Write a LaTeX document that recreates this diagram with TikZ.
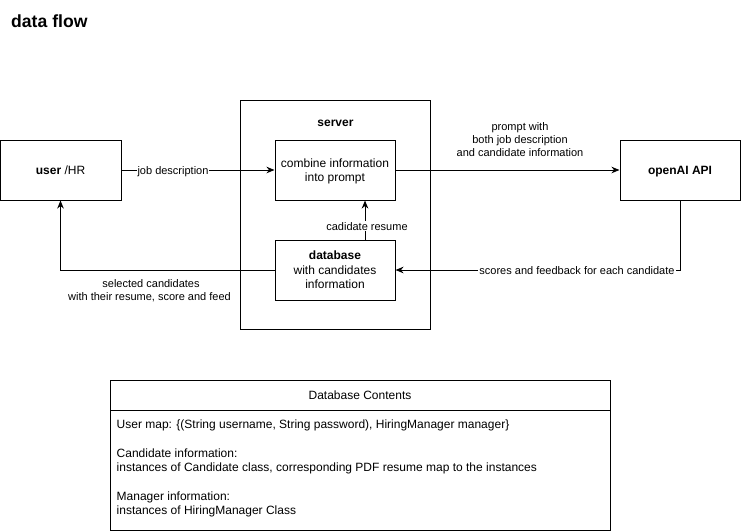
\documentclass[tikz,border=0pt]{standalone}
\usepackage{fontspec}
\setmainfont{Liberation Sans}
\usetikzlibrary{arrows.meta}
\begin{document}
\begin{tikzpicture}[x=1pt,y=-1pt,
  box/.style={draw, line width=1pt, inner sep=0pt},
  txt/.style={font=\fontsize{12}{14.4}\selectfont, anchor=base, inner sep=0pt},
  lbl/.style={font=\fontsize{11}{13.2}\selectfont, anchor=base, inner sep=0pt},
  wbg/.style={fill=white, inner sep=1pt},
  conn/.style={line width=1pt, -{Stealth[length=8pt,width=6.5pt,inset=2.5pt]}}]
\useasboundingbox (0,0) rectangle (741,531);
% title
\node[anchor=base west, inner sep=0pt, font=\fontsize{17.6}{20}\selectfont\bfseries] (title) at (11,27) {data flow};
% boxes
\node[box, minimum width=121pt, minimum height=60pt] (user) at (60.5,170) {};
\node[box, minimum width=190pt, minimum height=229pt] (server) at (335.5,215) {};
\node[box, minimum width=120pt, minimum height=60pt] (combine) at (335,170) {};
\node[box, minimum width=120pt, minimum height=60pt] (database) at (335,270) {};
\node[box, minimum width=120pt, minimum height=60pt] (openai) at (680,170) {};
% box texts
\node[txt] (userT) at (60.5,174.3) {\textbf{user} /HR};
\node[txt] (serverT) at (335.5,126) {\textbf{server}};
\node[txt] (combT1) at (335,167.1) {combine information};
\node[txt] (combT2) at (335,181.5) {into prompt};
\node[txt] (dbT1) at (335,259.9) {\textbf{database}};
\node[txt] (dbT2) at (335,274.3) {with candidates};
\node[txt] (dbT3) at (335,288.7) {information};
\node[txt] (aiT) at (680,174.3) {\textbf{openAI API}};
% connectors
\draw[conn] (user.east) -- (combine.west);
\node[lbl, wbg] (l1) at (173,174) {job description};
\draw[conn] (combine.east) -- (openai.west);
\node[lbl] (l2a) at (520,130) {prompt with};
\node[lbl] (l2b) at (520,143.2) {both job description};
\node[lbl] (l2c) at (520,156.4) {and candidate information};
\draw[conn] (openai.south) |- (database.east);
\node[lbl, wbg] (l3) at (577,274) {scores and feedback for each candidate};
\draw[conn] ([xshift=30pt]database.north) -- ([xshift=30pt]combine.south);
\node[lbl, wbg] (l4) at (367,230) {cadidate resume};
\draw[conn] (database.west) -| (user.south);
\node[lbl] (l5a) at (151,287) {selected candidates};
\node[lbl] (l5b) at (149.5,300.5) {with their resume, score and feed};
% table
\node[box, minimum width=500pt, minimum height=30pt] (thead) at (360,395) {};
\node[box, minimum width=500pt, minimum height=120pt] (tbody) at (360,470) {};
\node[txt] (theadT) at (360,399.3) {Database Contents};
\node[txt, anchor=base west] (r1) at (116.5,428.3) {User map: \{(String username, String password), HiringManager manager\}};
\node[txt, anchor=base west] (r2) at (116.5,457.1) {Candidate information:};
\node[txt, anchor=base west] (r3) at (116.5,471.5) {instances of Candidate class, corresponding PDF resume map to the instances};
\node[txt, anchor=base west] (r4) at (116.5,500.3) {Manager information:};
\node[txt, anchor=base west] (r5) at (116.5,514.7) {instances of HiringManager Class};
\end{tikzpicture}
\end{document}
